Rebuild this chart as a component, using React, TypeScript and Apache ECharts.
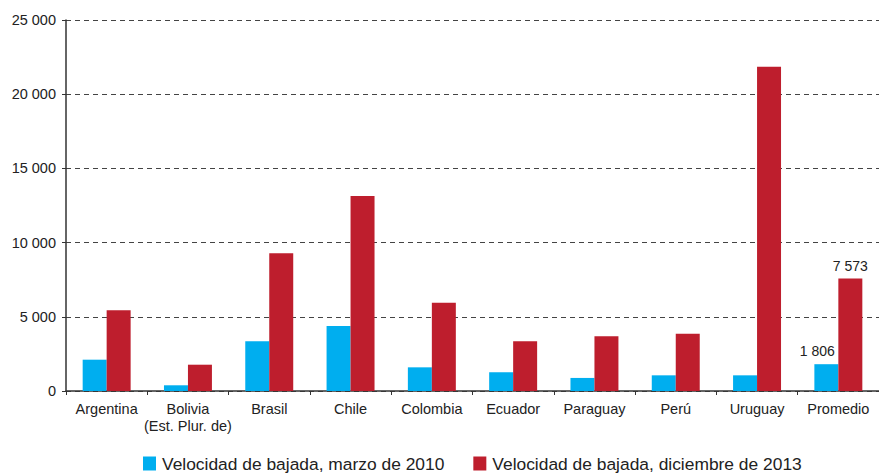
import React, { useEffect, useRef } from "react";
import * as echarts from "echarts";

const categories = [
  "Argentina",
  "Bolivia\n(Est. Plur. de)",
  "Brasil",
  "Chile",
  "Colombia",
  "Ecuador",
  "Paraguay",
  "Perú",
  "Uruguay",
  "Promedio",
];
const march2010 = [2110, 385, 3350, 4380, 1595, 1260, 880, 1056, 1056, 1806];
const december2013 = [5440, 1772, 9280, 13140, 5953, 3347, 3685, 3863, 21855, 7573];
const seriesNames = [
  "Velocidad de bajada, marzo de 2010",
  "Velocidad de bajada, diciembre de 2013",
];
const labeledIndex = 9;

const fmt = (v: number) =>
  String(Math.round(v)).replace(/\B(?=(\d{3})+(?!\d))/g, " ");

const FONT = "Liberation Sans, Arial, sans-serif";

export default function App() {
  const ref = useRef<HTMLDivElement>(null);
  useEffect(() => {
    if (!ref.current) return;
    const chart = echarts.init(ref.current, undefined, { renderer: "svg" });
    const mkData = (arr: number[], offset: number[]) =>
      arr.map((v, i) =>
        i === labeledIndex
          ? {
              value: v,
              label: {
                show: true,
                position: "top",
                distance: 6,
                offset,
                formatter: (p: any) => fmt(p.value),
                color: "#222",
                fontSize: 14,
                fontFamily: FONT,
              },
            }
          : v
      );
    chart.setOption({
      animation: false,
      textStyle: { fontFamily: FONT },
      grid: { left: 66, right: -4, top: 20, bottom: 82, containLabel: false },
      legend: {
        left: 138,
        top: 450,
        padding: 5,
        itemWidth: 13,
        itemHeight: 14,
        itemGap: 29,
        icon: "rect",
        textStyle: { fontSize: 17.4, color: "#222", fontFamily: FONT, padding: [0, 0, 0, 1] },
        data: seriesNames,
      },
      xAxis: {
        type: "category",
        data: categories,
        axisLine: { lineStyle: { color: "#333", width: 1.5 } },
        axisTick: { show: true, length: 4, lineStyle: { color: "#333" } },
        axisLabel: {
          fontSize: 14.5,
          color: "#222",
          margin: 9,
          lineHeight: 17,
          fontFamily: FONT,
          interval: 0,
        },
      },
      yAxis: {
        type: "value",
        min: 0,
        max: 25000,
        interval: 5000,
        axisLine: { show: true, lineStyle: { color: "#333", width: 1.5 } },
        axisTick: { show: true, length: 4, lineStyle: { color: "#333" } },
        axisLabel: {
          fontSize: 14.5,
          color: "#222",
          margin: 10,
          fontFamily: FONT,
          formatter: (v: number) => fmt(v),
        },
        splitLine: {
          show: true,
          lineStyle: { color: "#444", type: [5, 4], width: 1 },
        },
      },
      series: [
        {
          name: seriesNames[0],
          type: "bar",
          data: mkData(march2010, [-9, 0]),
          itemStyle: { color: "#00AEEF" },
          barGap: "0%",
          barCategoryGap: "41%",
        },
        {
          name: seriesNames[1],
          type: "bar",
          data: mkData(december2013, [0, 0]),
          itemStyle: { color: "#BE1E2D" },
          barGap: "0%",
          barCategoryGap: "41%",
        },
      ],
    });
    return () => chart.dispose();
  }, []);
  return <div ref={ref} style={{ width: 879, height: 473, position: "absolute", left: 0, top: 0 }} />;
}
